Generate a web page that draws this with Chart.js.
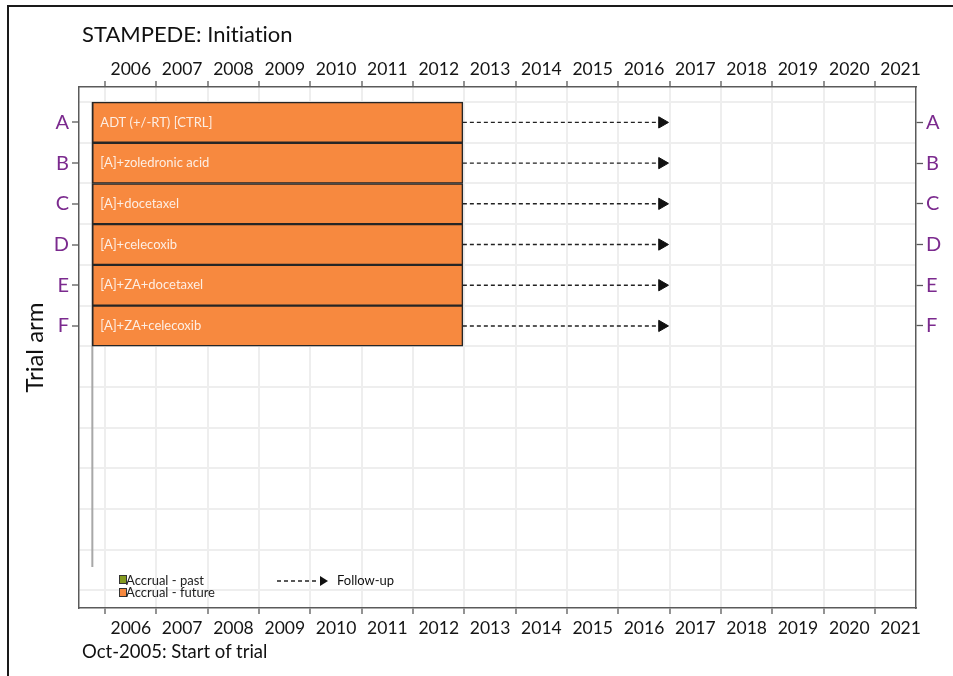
<!DOCTYPE html>
<html>
<head>
<meta charset="utf-8">
<title>STAMPEDE: Initiation</title>
<script src="https://cdn.jsdelivr.net/npm/chart.js@4.4.0/dist/chart.umd.min.js"></script>
<style>
  html, body { margin: 0; padding: 0; background: #fff; }
  body { width: 953px; height: 676px; overflow: hidden; position: relative; font-family: Lato, 'Open Sans', sans-serif; font-variant-ligatures: none; }
  .frame { position: absolute; left: 7px; top: 5px; width: 1000px; height: 700px; border: 2px solid #1a1a1a; }
  #wrap { position: absolute; left: 0; top: 0; width: 953px; height: 676px; }
  .title { position: absolute; left: 82px; top: 20px; font-size: 22px; color: #111; white-space: nowrap; }
  .note { position: absolute; left: 82px; top: 640px; font-size: 18.5px; color: #111; white-space: nowrap; }
</style>
</head>
<body>
<div class="frame"></div>
<div id="wrap"><canvas id="chart" width="953" height="676"></canvas></div>
<div class="title">STAMPEDE: Initiation</div>
<div class="note">Oct-2005: Start of trial</div>
<script>
// Trial arms (rows, top to bottom) and their labels inside the bars
const arms = ['A', 'B', 'C', 'D', 'E', 'F'];
const armNames = ['ADT (+/-RT) [CTRL]', '[A]+zoledronic acid', '[A]+docetaxel', '[A]+celecoxib', '[A]+ZA+docetaxel', '[A]+ZA+celecoxib'];

// Accrual period per arm, in decimal years
const accrualStart = [2005.75, 2005.75, 2005.75, 2005.75, 2005.75, 2005.75];
const accrualEnd = [2012.97, 2012.97, 2012.97, 2012.97, 2012.97, 2012.97];
// Follow-up arrows run from end of accrual to here
const followUpEnd = [2016.85, 2016.85, 2016.85, 2016.85, 2016.85, 2016.85];

// Year labels on the time axis
const years = [2006, 2007, 2008, 2009, 2010, 2011, 2012, 2013, 2014, 2015, 2016, 2017, 2018, 2019, 2020, 2021];

// Axis ranges
const xMin = 2005.49;
const xMax = 2021.8;
const yMin = -0.87;
const yMax = 11.93;

// "Now" marker: start of trial
const nowDate = 2005.75;
const nowFrom = -0.5;
const nowTo = 10.92;

const ORANGE = '#f7893f';
const OLIVE = '#849a1e';
const PURPLE = '#7b2a8e';
const AXIS = '#5a5a5a';
const GRID = '#eeeeee';
const CLEAR = 'rgba(0,0,0,0)';
const FONT = 'Lato';

const isArm = v => Number.isInteger(v) && arms[v] !== undefined;

// Bar text plugin: arm name written inside each accrual bar
const barText = {
  id: 'barText',
  afterDatasetsDraw(chart) {
    const ctx = chart.ctx;
    const meta = chart.getDatasetMeta(0);
    ctx.save();
    ctx.font = '13px ' + FONT;
    ctx.fillStyle = '#fdeee3';
    ctx.textBaseline = 'middle';
    meta.data.forEach((bar, i) => {
      ctx.fillText(armNames[i], bar.base + 8, bar.y);
    });
    ctx.restore();
  }
};

// Legend in the lower-left corner of the plot
const legendBox = {
  id: 'legendBox',
  afterDraw(chart) {
    const ctx = chart.ctx;
    const a = chart.chartArea;
    const x0 = a.left + 40;
    const y0 = a.bottom - 33;
    ctx.save();
    ctx.lineWidth = 1;
    ctx.strokeStyle = '#333';
    ctx.fillStyle = OLIVE;
    ctx.fillRect(x0, y0, 7, 8);
    ctx.strokeRect(x0 + 0.5, y0 + 0.5, 7, 8);
    ctx.fillStyle = ORANGE;
    ctx.fillRect(x0, y0 + 13, 7, 8);
    ctx.strokeRect(x0 + 0.5, y0 + 13.5, 7, 8);

    ctx.font = '13px ' + FONT;
    ctx.fillStyle = '#222';
    ctx.textBaseline = 'alphabetic';
    ctx.fillText('Accrual - past', x0 + 7, y0 + 10);
    ctx.fillText('Accrual - future', x0 + 7, y0 + 22);

    // dashed arrow
    const ax = x0 + 158;
    const ay = y0 + 6;
    ctx.setLineDash([4, 3]);
    ctx.lineWidth = 1.3;
    ctx.strokeStyle = '#222';
    ctx.beginPath();
    ctx.moveTo(ax, ay);
    ctx.lineTo(ax + 42, ay);
    ctx.stroke();
    ctx.setLineDash([]);
    ctx.fillStyle = '#111';
    ctx.beginPath();
    ctx.moveTo(ax + 43, ay - 5);
    ctx.lineTo(ax + 51, ay);
    ctx.lineTo(ax + 43, ay + 5);
    ctx.closePath();
    ctx.fill();
    ctx.textBaseline = 'middle';
    ctx.fillText('Follow-up', ax + 60, ay);
    ctx.restore();
  }
};

const yearTicks = scale => { scale.ticks = years.map(y => ({ value: y + 0.5 })); };
const armTicks = scale => { scale.ticks = arms.map((a, i) => ({ value: i })); };

const timeAxis = (position, onChart, height, pad) => ({
  type: 'linear',
  position: position,
  min: xMin,
  max: xMax,
  offset: false,
  afterBuildTicks: yearTicks,
  afterFit: s => { s.height = height; },
  ticks: {
    autoSkip: false,
    maxRotation: 0,
    padding: pad,
    color: '#151515',
    font: { family: FONT, size: 17.5 },
    callback: v => String(Math.floor(v))
  },
  grid: {
    offset: true,
    drawOnChartArea: onChart,
    color: GRID,
    lineWidth: 2,
    tickColor: AXIS,
    tickLength: 6,
    tickWidth: 1.3
  },
  border: { color: AXIS, width: 1.5 }
});

const datasets = [{
  type: 'bar',
  indexAxis: 'y',
  label: 'Accrual - future',
  data: arms.map((a, i) => ({ x: [accrualStart[i], accrualEnd[i]], y: i })),
  backgroundColor: ORANGE,
  borderColor: '#262626',
  borderWidth: 1.5,
  borderSkipped: false,
  barThickness: 'flex',
  barPercentage: 1,
  categoryPercentage: 1,
  xAxisID: 'x',
  yAxisID: 'y',
  order: 0
}];

arms.forEach((a, i) => {
  datasets.push({
    type: 'line',
    label: 'Follow-up ' + a,
    data: [{ x: accrualEnd[i], y: i }, { x: followUpEnd[i], y: i }],
    borderColor: '#222',
    borderWidth: 1.4,
    borderDash: [4, 3],
    pointStyle: 'triangle',
    pointRotation: 90,
    pointRadius: [0, 6.5],
    pointBackgroundColor: '#111',
    pointBorderColor: '#111',
    pointBorderWidth: 1,
    fill: false,
    xAxisID: 'x',
    yAxisID: 'y',
    order: 1
  });
});

datasets.push({
  type: 'line',
  label: 'Now',
  data: [{ x: nowDate, y: nowFrom }, { x: nowDate, y: nowTo }],
  borderColor: '#a8a8a8',
  borderWidth: 2,
  pointRadius: 0,
  fill: false,
  xAxisID: 'x',
  yAxisID: 'y',
  order: 2
});

new Chart(document.getElementById('chart'), {
  type: 'bar',
  data: { datasets },
  options: {
    responsive: false,
    animation: false,
    layout: { padding: 0 },
    plugins: {
      legend: { display: false },
      tooltip: { enabled: false },
      title: { display: false }
    },
    scales: {
      x: timeAxis('bottom', true, 68, 4),
      x2: timeAxis('top', false, 87, 1),
      y: {
        type: 'linear',
        position: 'left',
        reverse: true,
        min: yMin,
        max: yMax,
        offset: false,
        afterBuildTicks: scale => {
          // arm centres plus row boundaries (the boundaries carry the faint grid)
          const t = [];
          for (let v = -0.5; v <= 11.5; v += 0.5) t.push({ value: v });
          scale.ticks = t;
        },
        afterFit: s => { s.width = 79; },
        ticks: {
          autoSkip: false,
          padding: 3,
          color: PURPLE,
          font: { family: FONT, size: 20 },
          callback: v => isArm(v) ? arms[v] : ''
        },
        grid: {
          offset: false,
          color: c => (c.tick && !Number.isInteger(c.tick.value)) ? GRID : CLEAR,
          lineWidth: 2,
          tickColor: c => (c.tick && isArm(c.tick.value)) ? AXIS : CLEAR,
          tickLength: 7,
          tickWidth: 1.3
        },
        border: { color: AXIS, width: 1.5 },
        title: {
          display: true,
          text: 'Trial arm',
          color: '#111',
          font: { family: FONT, size: 24 },
          padding: { top: 21, bottom: 0 }
        }
      },
      yR: {
        type: 'linear',
        position: 'right',
        reverse: true,
        min: yMin,
        max: yMax,
        offset: false,
        afterBuildTicks: armTicks,
        afterFit: s => { s.width = 37; },
        ticks: {
          autoSkip: false,
          padding: 3,
          color: PURPLE,
          font: { family: FONT, size: 20 },
          callback: v => arms[v] || ''
        },
        grid: {
          offset: false,
          drawOnChartArea: false,
          tickColor: AXIS,
          tickLength: 7,
          tickWidth: 1.3
        },
        border: { color: AXIS, width: 1.5 }
      }
    }
  },
  plugins: [barText, legendBox]
});
</script>
</body>
</html>
